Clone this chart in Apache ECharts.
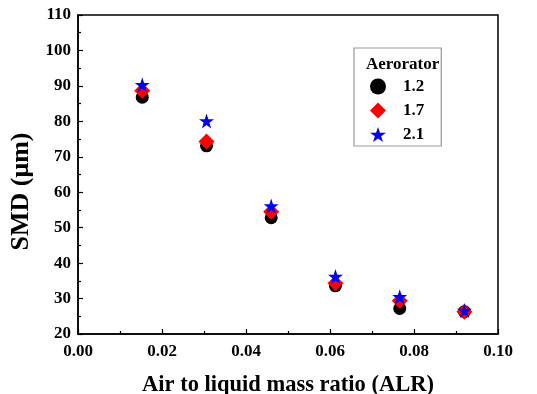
<!DOCTYPE html>
<html>
<head>
<meta charset="utf-8">
<script src="https://cdn.jsdelivr.net/npm/echarts@6/dist/echarts.min.js"></script>
<style>
  html, body { margin: 0; padding: 0; background: #fff; }
  #chart { width: 537px; height: 394px; }
</style>
</head>
<body>
<div id="chart"></div>
<script>
// ALR values (x)
const alr = [0.0153, 0.0306, 0.046, 0.0613, 0.0766, 0.092];
// SMD per aerorator
const names = ["1.2", "1.7", "2.1"];
const smd12 = [86.8, 73.1, 52.8, 33.6, 27.2, 26.3];
const smd17 = [88.6, 74.3, 54.5, 34.3, 29.4, 26.3];
const smd21 = [90.3, 80.1, 56.1, 36.2, 30.5, 26.6];

const font = "'Liberation Serif', 'Times New Roman', serif";
const star = "path://M50,0 L61.8,35.3 L98.9,35.3 L68.9,57.1 L80.3,92.7 L50,70.9 L19.7,92.7 L31.1,57.1 L1.1,35.3 L38.2,35.3 Z";

const pairs = ys => alr.map((x, i) => [x, ys[i]]);

// 系列样式
const mk = (name, ys, symbol, color, size) => ({
  name,
  type: "scatter",
  data: pairs(ys),
  symbol,
  symbolSize: size,
  itemStyle: { color, opacity: 1 },
  emphasis: { disabled: true }
});

const axisCommon = {
  axisLine: { show: true, onZero: false, lineStyle: { color: "#000", width: 1.5 } },
  axisTick: { show: true, inside: true, length: 5, lineStyle: { color: "#000", width: 1.2 } },
  minorTick: { show: true, splitNumber: 2, length: 3, lineStyle: { color: "#000", width: 1.2 } },
  splitLine: { show: false },
  nameLocation: "middle",
  nameTextStyle: { fontFamily: font, fontWeight: "bold", fontSize: 22.5, color: "#000" }
};

const chart = echarts.init(document.getElementById("chart"));
chart.setOption({
  animation: false,
  backgroundColor: "#fff",
  grid: {
    left: 78, right: 39, top: 15, bottom: 60,
    outerBoundsMode: "none",
    show: true, borderColor: "#000", borderWidth: 1.5
  },
  title: {
    text: "Aerorator",
    left: 361, top: 51,
    textStyle: { fontFamily: font, fontWeight: "bold", fontSize: 17, color: "#000" }
  },
  legend: {
    orient: "vertical",
    left: 354, top: 48,
    padding: [30, 17, 3, 16],
    borderColor: "#999", borderWidth: 1.2,
    itemWidth: 16, itemHeight: 16, itemGap: 7,
    selectedMode: false,
    data: names,
    textStyle: { fontFamily: font, fontWeight: "bold", fontSize: 17, color: "#000", padding: [0, 0, 0, 12] }
  },
  xAxis: {
    ...axisCommon,
    type: "value",
    min: 0, max: 0.1, interval: 0.02,
    name: "Air to liquid mass ratio (ALR)",
    nameGap: 40,
    axisLabel: {
      margin: 9,
      fontFamily: font, fontWeight: "bold", fontSize: 17, color: "#000",
      formatter: v => v.toFixed(2)
    }
  },
  yAxis: {
    ...axisCommon,
    type: "value",
    min: 20, max: 110, interval: 10,
    name: "SMD (μm)",
    nameGap: 42,
    nameTextStyle: { ...axisCommon.nameTextStyle, fontSize: 26, padding: [0, 34, 0, 0] },
    axisLabel: {
      margin: 7,
      fontFamily: font, fontWeight: "bold", fontSize: 17, color: "#000"
    }
  },
  series: [
    mk(names[0], smd12, "circle", "#000", 13),
    mk(names[1], smd17, "diamond", "#ff0000", 16),
    mk(names[2], smd21, star, "#0000ff", 15)
  ]
});
</script>
</body>
</html>
